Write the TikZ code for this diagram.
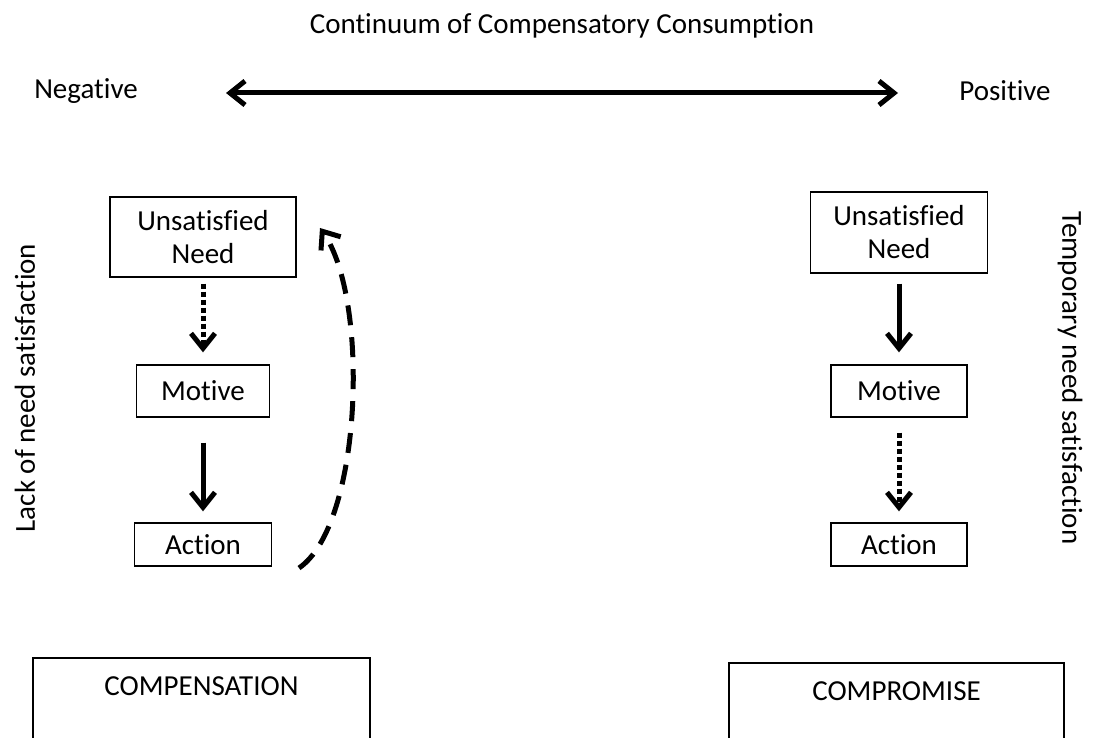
\documentclass[tikz,border=0pt]{standalone}
\usepackage{fontspec}
\setmainfont[Ligatures=NoCommon]{Carlito}
\usetikzlibrary{arrows.meta}

\begin{document}
\begin{tikzpicture}[x=1pt,y=-1pt,
  every node/.style={font=\fontsize{29}{33}\selectfont},
  box/.style={draw,line width=1.3pt,align=center,inner sep=0pt},
  flow/.style={line width=5pt,-{Straight Barb[length=15pt,width=24pt]}},
  dots/.style={flow,dash pattern=on 5pt off 3pt},
  bigbox/.style={draw,line width=1.5pt,anchor=north,inner xsep=0pt,inner ysep=19pt,text height=19pt,text depth=70pt}]
  \fill[white] (0,0) rectangle (1095,738);
  \useasboundingbox (0,0) rectangle (1095,738);
  % top scale
  \node (title) at (562,26) {Continuum of Compensatory Consumption};
  \node (neg) at (86,91) {Negative};
  \node (pos) at (1005,91) {Positive};
  \coordinate (l) at (226,93);
  \coordinate (r) at (898,93);
  \draw[line width=5pt,{Straight Barb[length=15pt,width=24pt]}-{Straight Barb[length=15pt,width=24pt]}] (l) -- (r);
  % left column
  \node[box,minimum width=186,minimum height=80] (lneed) at (203,237) {Unsatisfied\\Need};
  \node[box,minimum width=133,minimum height=52] (lmotive) at (203,391) {Motive};
  \node[box,minimum width=137,minimum height=43] (laction) at (203,544.5) {Action};
  \draw[dots,shorten <=6pt,shorten >=12pt] (lneed) -- (lmotive);
  \draw[flow,shorten <=25pt,shorten >=11pt] (lmotive) -- (laction);
  \coordinate (back) at (299,568);
  \coordinate (top) at (320,228);
  \draw[flow,dash pattern=on 20pt off 12pt] (back) .. controls (362,525) and (370,300) .. (top);
  % right column
  \node[box,minimum width=177,minimum height=81] (rneed) at (899,232.5) {Unsatisfied\\Need};
  \node[box,minimum width=136,minimum height=52] (rmotive) at (899,391) {Motive};
  \node[box,minimum width=136,minimum height=43] (raction) at (899,544.5) {Action};
  \draw[flow,shorten <=10pt,shorten >=12pt] (rneed) -- (rmotive);
  \draw[dots,shorten <=15pt,shorten >=11pt] (rmotive) -- (raction);
  % side labels
  \node[rotate=90] (lack) at (25,388) {Lack of need satisfaction};
  \node[rotate=-90] (temp) at (1070,378) {Temporary need satisfaction};
  % outcomes
  \node[bigbox,minimum width=337] (comp) at (201.5,657) {COMPENSATION};
  \node[bigbox,minimum width=335] (compr) at (896.5,662) {COMPROMISE};
\end{tikzpicture}
\end{document}
